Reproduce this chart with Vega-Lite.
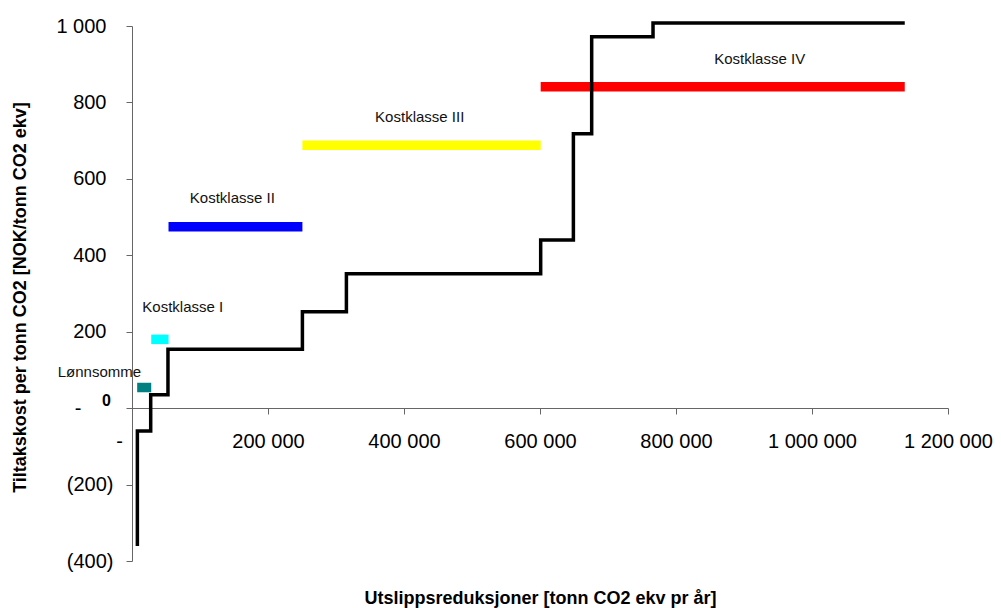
{
  "$schema": "https://vega.github.io/schema/vega-lite/v6.json",
  "width": 816,
  "height": 535,
  "autosize": "none",
  "padding": {"left": 132, "top": 26, "right": 53, "bottom": 47},
  "background": "white",
  "config": {"view": {"stroke": null}, "font": "Liberation Sans"},
  "datasets": {
    "steps": [
      {"seq": 0, "reduction": 7900, "cost": -361},
      {"seq": 1, "reduction": 7900, "cost": -60},
      {"seq": 2, "reduction": 27500, "cost": 35},
      {"seq": 3, "reduction": 52900, "cost": 154},
      {"seq": 4, "reduction": 250600, "cost": 252},
      {"seq": 5, "reduction": 315300, "cost": 352},
      {"seq": 6, "reduction": 601000, "cost": 440},
      {"seq": 7, "reduction": 649100, "cost": 718},
      {"seq": 8, "reduction": 676000, "cost": 972},
      {"seq": 9, "reduction": 766200, "cost": 1008},
      {"seq": 10, "reduction": 1136400, "cost": 1008}
    ],
    "classes": [
      {"klasse": "Lønnsomme", "start": 7600, "end": 28300, "avg": 54, "label_x": -47900, "label_y": 95},
      {"klasse": "Kostklasse I", "start": 28300, "end": 53700, "avg": 180, "label_x": 74600, "label_y": 265},
      {"klasse": "Kostklasse II", "start": 53700, "end": 250600, "avg": 475, "label_x": 147600, "label_y": 551},
      {"klasse": "Kostklasse III", "start": 250600, "end": 601000, "avg": 688, "label_x": 423100, "label_y": 761},
      {"klasse": "Kostklasse IV", "start": 601000, "end": 1136400, "avg": 841, "label_x": 923100, "label_y": 913}
    ],
    "zero": [
      {"x": -37600, "y": 19, "t": "0"}
    ]
  },
  "layer": [
    {
      "data": {"name": "classes"},
      "mark": {"type": "rule", "strokeWidth": 9.5, "strokeCap": "butt"},
      "encoding": {
        "x": {
          "field": "start",
          "type": "quantitative",
          "title": "Utslippsreduksjoner [tonn CO2 ekv pr år]",
          "scale": {"domain": [0, 1200000], "nice": false},
          "axis": {
            "values": [0, 200000, 400000, 600000, 800000, 1000000, 1200000],
            "labelExpr": "datum.value === 0 ? '-' : replace(replace(format(datum.value, ','), ',', ' '), ',', ' ')",
            "labelOffset": {"condition": {"test": "datum.value === 0", "value": -13}, "value": 0},
            "offset": -153,
            "grid": false,
            "domainColor": "#666666",
            "tickColor": "#666666",
            "tickSize": 6,
            "labelPadding": 17,
            "labelFontSize": 20,
            "labelColor": "#000000",
            "labelFont": "Liberation Sans",
            "labelFlush": false,
            "labelOverlap": false,
            "titleFontSize": 18,
            "titleFontWeight": "bold",
            "titleFont": "Liberation Sans",
            "titleColor": "#000000",
            "titleX": 408,
            "titleY": 190,
            "titleBaseline": "middle"
          }
        },
        "x2": {"field": "end"},
        "y": {
          "field": "avg",
          "type": "quantitative",
          "title": "Tiltakskost per tonn CO2 [NOK/tonn CO2 ekv]",
          "scale": {"domain": [-400, 1000], "nice": false},
          "axis": {
            "values": [-400, -200, 0, 200, 400, 600, 800, 1000],
            "labelExpr": "datum.value === 0 ? '-' : datum.value < 0 ? '(' + replace(format(-datum.value, ','), ',', ' ') + ')' : replace(format(datum.value, ','), ',', ' ')",
            "labelPadding": {"condition": [{"test": "datum.value === 0", "value": 45}, {"test": "datum.value < 0", "value": 13}], "value": 20},
            "grid": false,
            "domainColor": "#666666",
            "tickColor": "#666666",
            "tickSize": 6,
            "labelFontSize": 20,
            "labelColor": "#000000",
            "labelFont": "Liberation Sans",
            "labelFlush": false,
            "labelOverlap": false,
            "titleFontSize": 18,
            "titleFontWeight": "bold",
            "titleFont": "Liberation Sans",
            "titleColor": "#000000",
            "titleX": -112,
            "titleY": 271,
            "titleBaseline": "middle"
          }
        },
        "color": {
          "field": "klasse",
          "type": "nominal",
          "scale": {
            "domain": ["Lønnsomme", "Kostklasse I", "Kostklasse II", "Kostklasse III", "Kostklasse IV"],
            "range": ["#008080", "#00FFFF", "#0000FF", "#FFFF00", "#FF0000"]
          },
          "legend": null
        }
      }
    },
    {
      "data": {"name": "steps"},
      "mark": {"type": "line", "interpolate": "step-after", "color": "#000000", "strokeWidth": 3.5, "strokeJoin": "miter"},
      "encoding": {
        "x": {"field": "reduction", "type": "quantitative", "title": "Utslippsreduksjoner [tonn CO2 ekv pr år]"},
        "y": {"field": "cost", "type": "quantitative", "title": "Tiltakskost per tonn CO2 [NOK/tonn CO2 ekv]"},
        "order": {"field": "seq", "type": "quantitative"}
      }
    },
    {
      "data": {"name": "classes"},
      "mark": {"type": "text", "fontSize": 15, "color": "#111111", "font": "Liberation Sans", "align": "center", "baseline": "middle"},
      "encoding": {
        "x": {"field": "label_x", "type": "quantitative", "title": "Utslippsreduksjoner [tonn CO2 ekv pr år]"},
        "y": {"field": "label_y", "type": "quantitative", "title": "Tiltakskost per tonn CO2 [NOK/tonn CO2 ekv]"},
        "text": {"field": "klasse"}
      }
    },
    {
      "data": {"name": "zero"},
      "mark": {"type": "text", "fontSize": 16, "fontWeight": "bold", "color": "#000000", "font": "Liberation Sans", "align": "center", "baseline": "middle"},
      "encoding": {
        "x": {"field": "x", "type": "quantitative", "title": "Utslippsreduksjoner [tonn CO2 ekv pr år]"},
        "y": {"field": "y", "type": "quantitative", "title": "Tiltakskost per tonn CO2 [NOK/tonn CO2 ekv]"},
        "text": {"field": "t"}
      }
    }
  ]
}
